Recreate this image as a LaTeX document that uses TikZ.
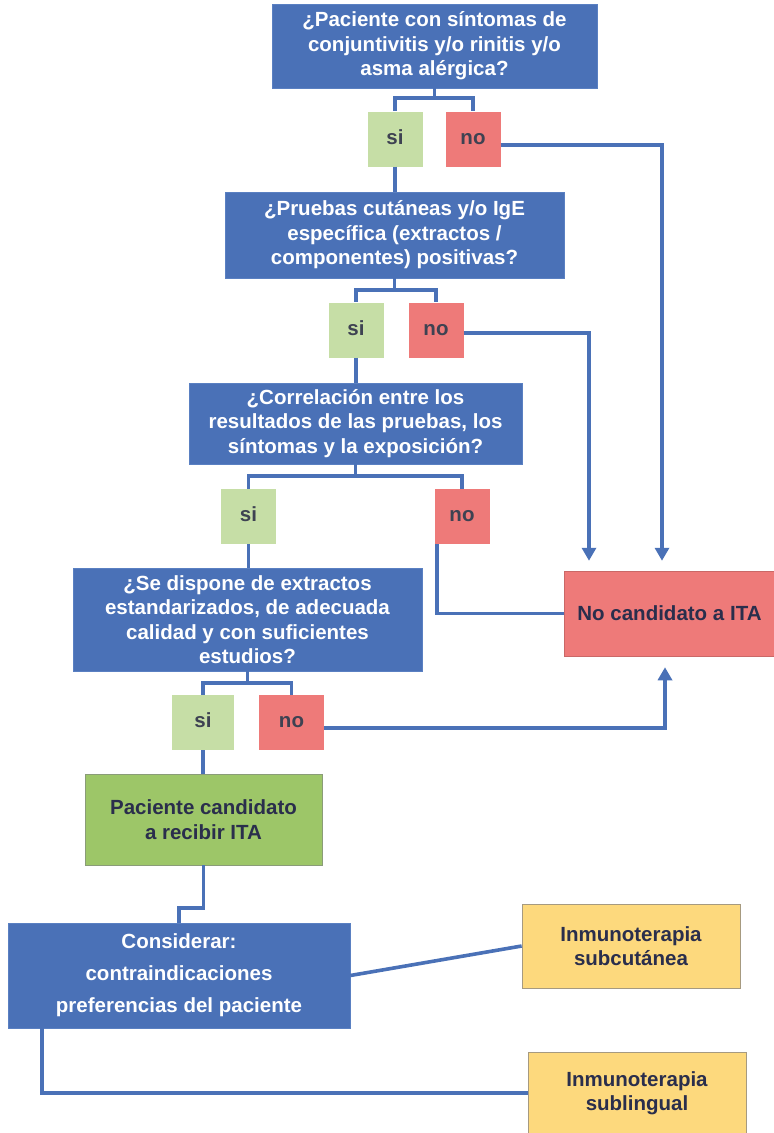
\documentclass[tikz,border=0pt]{standalone}
\usepackage{fontspec}
\setmainfont{Liberation Sans}
\usetikzlibrary{arrows.meta}

\definecolor{flowblue}{HTML}{4A71B7}
\definecolor{blueedge}{HTML}{5A80C2}
\definecolor{sifill}{HTML}{C6DEA6}
\definecolor{nofill}{HTML}{EE7A79}
\definecolor{okfill}{HTML}{9DC668}
\definecolor{okedge}{HTML}{8A9C78}
\definecolor{yelfill}{HTML}{FDD97D}
\definecolor{yeledge}{HTML}{A69A80}
\definecolor{darktext}{HTML}{2A2E4C}
\definecolor{graytext}{HTML}{3E4252}

\tikzset{
  txt/.style={font=\fontsize{20.5}{24.5}\selectfont\bfseries, align=center, inner sep=0pt},
  question/.style={txt, fill=flowblue, draw=blueedge, line width=0.6pt, text=white},
  answer/.style={txt, text=graytext, minimum width=55pt, minimum height=55pt,
                 text height=10.5pt, text depth=0pt},
  yesbox/.style={answer, fill=sifill},
  nobox/.style={answer, fill=nofill},
  result/.style={txt, fill=nofill, draw=nofill!85!black, line width=0.5pt, text=darktext},
  okbox/.style={txt, fill=okfill, draw=okedge, line width=0.7pt, text=darktext},
  optbox/.style={txt, fill=yelfill, draw=yeledge, line width=0.7pt, text=darktext},
  link/.style={draw=flowblue, line width=3.6pt},
  arrowlink/.style={link, -{Triangle[width=14pt,length=13pt]}},
}

\begin{document}
\begin{tikzpicture}[x=1pt, y=-1pt]
\useasboundingbox (0,0) rectangle (774,1133);

% questions and answers
\node[question, minimum width=325pt, minimum height=84pt] (b1) at (434.5,46)
  {¿Paciente con síntomas de\\conjuntivitis y/o rinitis y/o\\asma alérgica?};
\node[yesbox] (s1) at (395,139) {si};
\node[nobox]  (n1) at (473,139) {no};

\node[question, minimum width=339pt, minimum height=86pt] (b2) at (394.5,235)
  {¿Pruebas cutáneas y/o IgE\\específica (extractos /\\componentes) positivas?};
\node[yesbox] (s2) at (356,330) {si};
\node[nobox]  (n2) at (436,330) {no};

\node[question, minimum width=333pt, minimum height=81pt] (b3) at (355.5,423.5)
  {¿Correlación entre los\\resultados de las pruebas, los\\síntomas y la exposición?};
\node[yesbox] (s3) at (248.5,516.5) {si};
\node[nobox]  (n3) at (462,516.5) {no};

\node[question, minimum width=349pt, minimum height=103pt] (b4) at (247.5,619.5)
  {¿Se dispone de extractos\\estandarizados, de adecuada\\calidad y con suficientes\\estudios?};
\node[yesbox, minimum width=62pt] (s4) at (203,722.5) {si};
\node[nobox, minimum width=65pt]  (n4) at (291.5,722.5) {no};

% outcomes
\node[result, minimum width=210pt, minimum height=85pt] (nc) at (669.5,613.5) {No candidato a ITA};
\node[okbox, minimum width=237pt, minimum height=91pt] (b5) at (203.5,819.5)
  {Paciente candidato\\a recibir ITA};
\node[question, minimum width=342pt, minimum height=105pt,
      font=\fontsize{20.5}{32}\selectfont\bfseries] (b6) at (179,975.5)
  {Considerar:\\contraindicaciones\\preferencias del paciente};
\node[optbox, minimum width=218pt, minimum height=84pt] (sc) at (631,946)
  {Inmunoterapia\\subcutánea};
\node[optbox, minimum width=218pt, minimum height=82pt] (sl) at (637,1093)
  {Inmunoterapia\\sublingual};

% branch junctions
\coordinate (j1) at (434.5,98);
\coordinate (j2) at (394.5,290);
\coordinate (j3) at (355.5,476);
\coordinate (j4) at (247.5,683);
\coordinate (j5) at (203.5,908);

\draw[link] (b1.south) -- (j1);
\draw[link] (j1) -| (s1.north);
\draw[link] (j1) -| (n1.north);
\draw[link] (s1.south) -- (s1.south |- b2.north);

\draw[link] (b2.south) -- (j2);
\draw[link] (j2) -| (s2.north);
\draw[link] (j2) -| (n2.north);
\draw[link] (s2.south) -- (s2.south |- b3.north);

\draw[link] (b3.south) -- (j3);
\draw[link] (j3) -| (s3.north);
\draw[link] (j3) -| (n3.north);
\draw[link] (s3.south) -- (s3.south |- b4.north);

\draw[link] (b4.south) -- (j4);
\draw[link] (j4) -| (s4.north);
\draw[link] (j4) -| (n4.north);
\draw[link] (s4.south) -- (s4.south |- b5.north);

% "no" answers lead to the rejection box
\draw[arrowlink, shorten >=10pt] ([yshift=-6pt]n1.east) -| ([xshift=-7.5pt]nc.north);
\draw[arrowlink, shorten >=10pt] ([yshift=-3pt]n2.east) -| ([xshift=-80.5pt]nc.north);
\draw[link] ([xshift=-25pt]n3.south) |- (nc.west);
\draw[arrowlink, shorten >=11pt] ([yshift=-5.5pt]n4.east) -| ([xshift=-4.5pt]nc.south);

% treatment options
\draw[link] (b5.south) -- (j5) -| (b6.north);
\draw[link] (b6.east) -- (sc.west);
\draw[link] ([xshift=-137pt]b6.south) |- (sl.west);
\end{tikzpicture}
\end{document}
